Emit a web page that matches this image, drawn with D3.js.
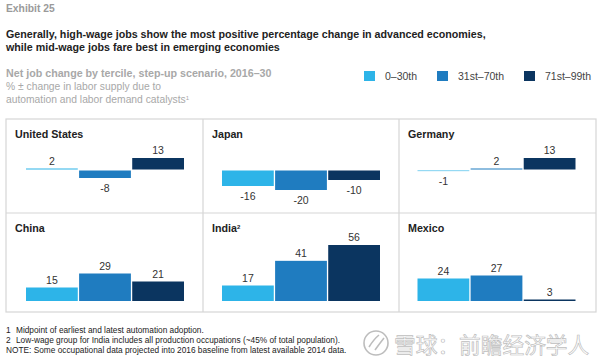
<!DOCTYPE html>
<html>
<head>
<meta charset="utf-8">
<script src="https://cdn.jsdelivr.net/npm/d3@7"></script>
<style>
  html, body { margin: 0; padding: 0; background: #fff; }
  text { font-family: "Liberation Sans", Arial, sans-serif; }
</style>
</head>
<body>
<div id="chart"></div>
<script>
const countries = ['United States', 'Japan', 'Germany', 'China', 'India', 'Mexico'];
const terciles = ['0–30th', '31st–70th', '71st–99th'];
const lowWage = [2, -16, -1, 15, 17, 24];
const midWage = [-8, -20, 2, 29, 41, 27];
const highWage = [13, -10, 13, 21, 56, 3];
const footnoteKeys = ['1', '2'];
const footnotes = [
  'Midpoint of earliest and latest automation adoption.',
  'Low-wage group for India includes all production occupations (~45% of total population).'
];
const note = 'NOTE: Some occupational data projected into 2016 baseline from latest available 2014 data.';

const colors = ['#2db4e8', '#1f7cc0', '#0b3560'];
const width = 600, height = 360;

const svg = d3.select('#chart').append('svg')
    .attr('width', width).attr('height', height)
    .style('display', 'block');

// Header text
function addText(x, y, str, size, fill, weight) {
  return svg.append('text')
      .attr('x', x).attr('y', y)
      .attr('font-size', size)
      .attr('font-weight', weight || 'normal')
      .attr('fill', fill)
      .text(str);
}
addText(6, 12, 'Exhibit 25', 10.3, '#9a9a9a', 'bold');
addText(6, 38, 'Generally, high-wage jobs show the most positive percentage change in advanced economies,', 10.7, '#222', 'bold');
addText(6, 51, 'while mid-wage jobs fare best in emerging economies', 10.7, '#222', 'bold');
addText(6, 77, 'Net job change by tercile, step-up scenario, 2016–30', 10.7, '#a8a8a8', 'bold');
addText(6, 90, '% ± change in labor supply due to', 10.3, '#a8a8a8');
const sub2 = addText(6, 103, 'automation and labor demand catalysts', 10.3, '#a8a8a8');
sub2.append('tspan').attr('font-size', 6).attr('dy', -3).text('1');

// Legend
const legendX = [364, 437, 524];
terciles.forEach((t, i) => {
  svg.append('rect')
      .attr('x', legendX[i]).attr('y', 71)
      .attr('width', 11).attr('height', 10)
      .attr('fill', colors[i]);
  addText(legendX[i] + 21, 80, t, 10.5, '#444');
});

// Panel grid
const colEdges = [6, 203, 399, 596];
const barStart = [26, 222, 417.5];
const rowEdges = [119, 213, 312];
const baselines = [169.5, 301];
const gridColor = '#d6d6d6';

svg.append('rect')
    .attr('x', colEdges[0]).attr('y', rowEdges[0])
    .attr('width', colEdges[3] - colEdges[0]).attr('height', rowEdges[2] - rowEdges[0])
    .attr('fill', 'none').attr('stroke', gridColor).attr('stroke-width', 1.2);
[colEdges[1], colEdges[2]].forEach(x => {
  svg.append('line').attr('x1', x).attr('x2', x).attr('y1', rowEdges[0]).attr('y2', rowEdges[2])
      .attr('stroke', gridColor).attr('stroke-width', 1.2);
});
svg.append('line').attr('x1', colEdges[0]).attr('x2', colEdges[3]).attr('y1', rowEdges[1]).attr('y2', rowEdges[1])
    .attr('stroke', gridColor).attr('stroke-width', 1.2);

// bar length in px, source chart squeezes the small values
const posLen = d3.scaleLinear().domain([0, 3, 29, 56]).range([0, 1.5, 27.5, 56]);
const negLen = d3.scaleLinear().domain([0, 1, 8, 20]).range([0, 0.6, 7.5, 19.5]);
const barLen = d => d >= 0 ? posLen(d) : negLen(-d);

countries.forEach((name, i) => {
  const col = i % 3, row = Math.floor(i / 3);
  const values = [lowWage[i], midWage[i], highWage[i]];
  const left = colEdges[col];
  const x = d3.scaleBand().domain(terciles)
      .range([barStart[col], barStart[col] + 158]).paddingInner(0.025);
  const base = baselines[row];

  const g = svg.append('g');

  const title = g.append('text')
      .attr('x', left + 9).attr('y', rowEdges[row] + 18.5)
      .attr('font-size', 10.7).attr('font-weight', 'bold').attr('fill', '#222')
      .text(name);
  if (name === 'India') {
    title.append('tspan').attr('font-size', 6).attr('dy', -3).text('2');
  }

  g.selectAll('rect').data(values).join('rect')
      .attr('x', (d, j) => x(terciles[j]))
      .attr('width', x.bandwidth())
      .attr('y', d => d >= 0 ? base - barLen(d) : base + 1)
      .attr('height', d => barLen(d))
      .attr('fill', (d, j) => colors[j]);

  g.selectAll('text.val').data(values).join('text')
      .attr('class', 'val')
      .attr('x', (d, j) => x(terciles[j]) + x.bandwidth() / 2)
      .attr('y', d => d >= 0 ? base - barLen(d) - 4 : base + barLen(d) + 14.5)
      .attr('text-anchor', 'middle')
      .attr('font-size', 10.5).attr('fill', '#333')
      .text(d => d);
});

// Footnotes
footnotes.forEach((t, i) => {
  addText(6, 333 + i * 10, footnoteKeys[i], 8.3, '#222');
  addText(16, 333 + i * 10, t, 8.3, '#222');
});
addText(6, 353, note, 8.3, '#222');

// Watermark
const mark = svg.append('g').attr('fill', '#fff').attr('stroke', '#bdbdbd').attr('stroke-width', 0.7);
mark.append('circle').attr('cx', 376).attr('cy', 343).attr('r', 12).attr('fill', 'none').attr('stroke-width', 1.6);
mark.append('path').attr('d', 'M369 347 Q374 339 379 335 M375 350 Q380 343 384 338').attr('fill', 'none').attr('stroke-width', 1.6);
mark.append('text')
    .attr('x', 394).attr('y', 353)
    .attr('font-size', 21.7)
    .style('font-family', '"Noto Sans CJK SC"')
    .text('雪球：前瞻经济学人');
</script>
</body>
</html>
